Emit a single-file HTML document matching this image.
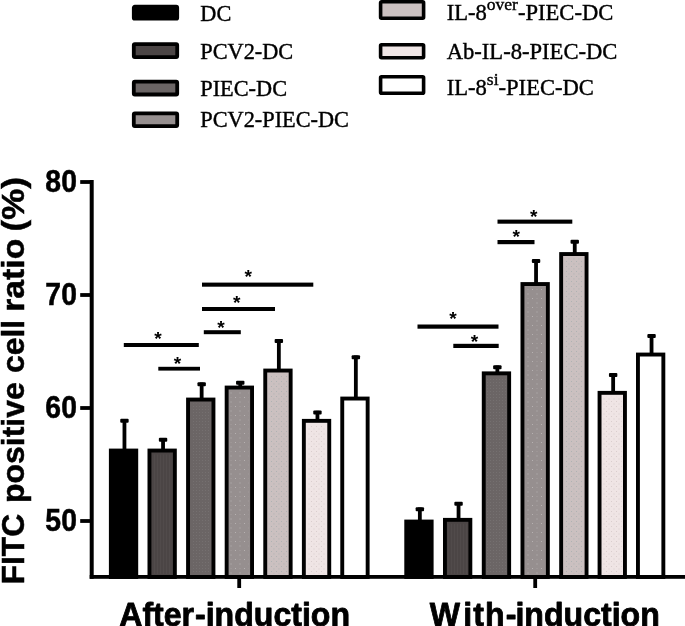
<!DOCTYPE html>
<html><head><meta charset="utf-8"><title>FITC positive cell ratio</title>
<style>
html,body{margin:0;padding:0;background:#fff;}
svg{display:block}
text{fill:#000}
.tick{stroke:#000;stroke-width:0.5px;font:bold 30px "Liberation Sans",Arial,sans-serif;text-anchor:end}
.xl{stroke:#000;stroke-width:0.8px;stroke-linejoin:round;font:bold 32.1px "Liberation Sans",Arial,sans-serif}
.yl{stroke:#000;stroke-width:0.5px;font:bold 31.5px "Liberation Sans",Arial,sans-serif}
.lg{stroke:#000;stroke-width:0.4px;font:22.6px "Liberation Serif","Times New Roman",serif}
.lgl{font-size:22.3px}
.sup{font-size:17.5px}
.star{font:bold 19.2px "Liberation Sans",Arial,sans-serif;text-anchor:middle}
</style></head><body>
<svg width="685" height="626" viewBox="0 0 685 626">
<defs>
<pattern id="p2" width="3" height="3" patternUnits="userSpaceOnUse"><rect x="1" y="0" width="1" height="3" fill="#fff" opacity="0.03"/></pattern>
<pattern id="p3" width="3" height="3" patternUnits="userSpaceOnUse"><rect x="1" y="1" width="1" height="1" fill="#fff" opacity="0.07"/></pattern>
<pattern id="p4" width="9" height="9" patternUnits="userSpaceOnUse"><rect x="1" y="1" width="1" height="1" fill="#fff" opacity="0.3"/><rect x="5.5" y="5.5" width="1" height="1" fill="#fff" opacity="0.3"/><rect x="5.5" y="1" width="1" height="1" fill="#fff" opacity="0.12"/></pattern>
<pattern id="p5" width="5" height="5" patternUnits="userSpaceOnUse"><rect x="1" y="1" width="0.9" height="0.9" fill="#6f9090" opacity="0.38"/><rect x="3.5" y="3.5" width="0.9" height="0.9" fill="#6f9090" opacity="0.38"/></pattern>
<pattern id="p6" width="5" height="5" patternUnits="userSpaceOnUse"><rect x="1" y="1" width="1" height="1" fill="#a99" opacity="0.3"/><rect x="3.5" y="3.5" width="1" height="1" fill="#a99" opacity="0.3"/></pattern>
</defs>
<rect width="685" height="626" fill="#fff"/>
<rect x="122.55" y="419.00" width="3.8" height="32.00" fill="#000"/><rect x="120.25" y="418.80" width="8.4" height="4" rx="1" fill="#000"/><rect x="110.85" y="450.55" width="25.40" height="126.45" fill="#000000" stroke="#000" stroke-width="3.9"/>
<rect x="161.15" y="438.00" width="3.8" height="13.00" fill="#000"/><rect x="158.85" y="437.80" width="8.4" height="4" rx="1" fill="#000"/><rect x="149.45" y="450.55" width="25.40" height="126.45" fill="#4b4545" stroke="#000" stroke-width="3.9"/><rect x="152.90" y="454.50" width="18.50" height="119.50" fill="url(#p2)"/>
<rect x="199.75" y="382.50" width="3.8" height="17.50" fill="#000"/><rect x="197.45" y="382.30" width="8.4" height="4" rx="1" fill="#000"/><rect x="188.05" y="399.55" width="25.40" height="177.45" fill="#6b6565" stroke="#000" stroke-width="3.9"/><rect x="191.50" y="403.50" width="18.50" height="170.50" fill="url(#p3)"/>
<rect x="238.35" y="381.00" width="3.8" height="7.00" fill="#000"/><rect x="236.05" y="380.80" width="8.4" height="4" rx="1" fill="#000"/><rect x="226.65" y="387.55" width="25.40" height="189.45" fill="#968f8f" stroke="#000" stroke-width="3.9"/><rect x="230.10" y="391.50" width="18.50" height="182.50" fill="url(#p4)"/>
<rect x="276.95" y="339.30" width="3.8" height="31.70" fill="#000"/><rect x="274.65" y="339.10" width="8.4" height="4" rx="1" fill="#000"/><rect x="265.25" y="370.55" width="25.40" height="206.45" fill="#cbc0c0" stroke="#000" stroke-width="3.9"/><rect x="268.70" y="374.50" width="18.50" height="199.50" fill="url(#p5)"/>
<rect x="315.55" y="410.80" width="3.8" height="10.50" fill="#000"/><rect x="313.25" y="410.60" width="8.4" height="4" rx="1" fill="#000"/><rect x="303.85" y="420.85" width="25.40" height="156.15" fill="#efe5e5" stroke="#000" stroke-width="3.9"/><rect x="307.30" y="424.80" width="18.50" height="149.20" fill="url(#p6)"/>
<rect x="353.95" y="355.50" width="3.8" height="43.50" fill="#000"/><rect x="351.65" y="355.30" width="8.4" height="4" rx="1" fill="#000"/><rect x="342.25" y="398.55" width="25.40" height="178.45" fill="#ffffff" stroke="#000" stroke-width="3.9"/>
<rect x="417.95" y="507.50" width="3.8" height="14.50" fill="#000"/><rect x="415.65" y="507.30" width="8.4" height="4" rx="1" fill="#000"/><rect x="406.25" y="521.55" width="25.40" height="55.45" fill="#000000" stroke="#000" stroke-width="3.9"/>
<rect x="456.65" y="502.00" width="3.8" height="18.30" fill="#000"/><rect x="454.35" y="501.80" width="8.4" height="4" rx="1" fill="#000"/><rect x="444.95" y="519.85" width="25.40" height="57.15" fill="#4b4545" stroke="#000" stroke-width="3.9"/><rect x="448.40" y="523.80" width="18.50" height="50.20" fill="url(#p2)"/>
<rect x="495.45" y="365.50" width="3.8" height="8.30" fill="#000"/><rect x="493.15" y="365.30" width="8.4" height="4" rx="1" fill="#000"/><rect x="483.75" y="373.35" width="25.40" height="203.65" fill="#6b6565" stroke="#000" stroke-width="3.9"/><rect x="487.20" y="377.30" width="18.50" height="196.70" fill="url(#p3)"/>
<rect x="534.15" y="259.30" width="3.8" height="25.20" fill="#000"/><rect x="531.85" y="259.10" width="8.4" height="4" rx="1" fill="#000"/><rect x="522.45" y="284.05" width="25.40" height="292.95" fill="#968f8f" stroke="#000" stroke-width="3.9"/><rect x="525.90" y="288.00" width="18.50" height="286.00" fill="url(#p4)"/>
<rect x="572.85" y="240.00" width="3.8" height="14.50" fill="#000"/><rect x="570.55" y="239.80" width="8.4" height="4" rx="1" fill="#000"/><rect x="561.15" y="254.05" width="25.40" height="322.95" fill="#cbc0c0" stroke="#000" stroke-width="3.9"/><rect x="564.60" y="258.00" width="18.50" height="316.00" fill="url(#p5)"/>
<rect x="611.25" y="373.30" width="3.8" height="20.00" fill="#000"/><rect x="608.95" y="373.10" width="8.4" height="4" rx="1" fill="#000"/><rect x="599.55" y="392.85" width="25.40" height="184.15" fill="#efe5e5" stroke="#000" stroke-width="3.9"/><rect x="603.00" y="396.80" width="18.50" height="177.20" fill="url(#p6)"/>
<rect x="649.65" y="334.30" width="3.8" height="20.70" fill="#000"/><rect x="647.35" y="334.10" width="8.4" height="4" rx="1" fill="#000"/><rect x="637.95" y="354.55" width="25.40" height="222.45" fill="#ffffff" stroke="#000" stroke-width="3.9"/>
<rect x="123.8" y="343" width="75.00" height="4.00" fill="#000"/>
<text x="158" y="344.7" class="star">*</text>
<rect x="158.3" y="366.8" width="41.70" height="3.80" fill="#000"/>
<text x="177.5" y="369.7" class="star">*</text>
<rect x="203.8" y="330.2" width="37.00" height="4.00" fill="#000"/>
<text x="221" y="333.7" class="star">*</text>
<rect x="202" y="307" width="73.00" height="4.00" fill="#000"/>
<text x="236.8" y="308.7" class="star">*</text>
<rect x="202" y="282.6" width="111.30" height="4.10" fill="#000"/>
<text x="248.3" y="282.7" class="star">*</text>
<rect x="417.5" y="324.5" width="81.00" height="4.20" fill="#000"/>
<text x="453" y="324.5" class="star">*</text>
<rect x="453.3" y="343.8" width="45.40" height="4.20" fill="#000"/>
<text x="474.6" y="348.2" class="star">*</text>
<rect x="497.5" y="240" width="37.00" height="4.20" fill="#000"/>
<text x="516.2" y="242.5" class="star">*</text>
<rect x="497.5" y="219.6" width="74.80" height="4.10" fill="#000"/>
<text x="533.8" y="222.7" class="star">*</text>
<rect x="89.7" y="180" width="4" height="398.8" fill="#000"/>
<rect x="89.7" y="575" width="596" height="3.8" fill="#000"/>
<rect x="80.2" y="180.1" width="10" height="3.8" fill="#000"/>
<text transform="translate(76.9,191.79999999999998) scale(0.945,1.073)" class="tick">80</text>
<rect x="80.2" y="293.1" width="10" height="3.8" fill="#000"/>
<text transform="translate(76.9,304.8) scale(0.945,1.073)" class="tick">70</text>
<rect x="80.2" y="406.1" width="10" height="3.8" fill="#000"/>
<text transform="translate(76.9,417.8) scale(0.945,1.073)" class="tick">60</text>
<rect x="80.2" y="519.1" width="10" height="3.8" fill="#000"/>
<text transform="translate(76.9,530.8000000000001) scale(0.945,1.073)" class="tick">50</text>
<rect x="237.3" y="578" width="3.8" height="10" fill="#000"/>
<rect x="533.3" y="578" width="3.8" height="10" fill="#000"/>
<text transform="translate(119.2,626.2) scale(1,1.03)" class="xl">After<tspan dx="0.9">-induction</tspan></text>
<text transform="translate(429.7,626.2) scale(1,1.03)" class="xl">W<tspan dx="3.3">i</tspan><tspan dx="1">t</tspan><tspan dx="1">h</tspan><tspan dx="1.2">-</tspan><tspan dx="-1">induction</tspan></text>
<text transform="translate(23.8,584.50) rotate(-90) scale(1.0120,1)" class="yl">FITC</text>
<text transform="translate(23.8,503.00) rotate(-90) scale(1.0140,1)" class="yl">positive</text>
<text transform="translate(23.8,373.00) rotate(-90) scale(1.0120,1)" class="yl">cell</text>
<text transform="translate(23.8,311.80) rotate(-90) scale(1.0700,1)" class="yl">ratio</text>
<text transform="translate(23.8,231.50) rotate(-90) scale(1.1100,1)" class="yl">(%)</text>
<rect x="133.8" y="6.70" width="43.4" height="12.00" rx="1" fill="#000000" stroke="#000" stroke-width="3.8"/>
<text x="200.3" y="20.5" class="lg lgl">DC</text>
<rect x="133.8" y="44.10" width="43.4" height="13.00" rx="1" fill="#4b4545" stroke="#000" stroke-width="3.8"/>
<text x="200.3" y="58.5" class="lg lgl">PCV2-DC</text>
<rect x="133.8" y="81.70" width="43.4" height="12.80" rx="1" fill="#6b6565" stroke="#000" stroke-width="3.8"/>
<text x="200.3" y="96" class="lg lgl">PIEC-DC</text>
<rect x="133.8" y="113.40" width="43.4" height="12.70" rx="1" fill="#968f8f" stroke="#000" stroke-width="3.8"/>
<text x="200.3" y="127.2" class="lg lgl">PCV2-PIEC-DC</text>
<rect x="380.6" y="1.8" width="43" height="16.4" rx="1" fill="#cbc0c0" stroke="#000" stroke-width="3.6"/>
<text x="446.7" y="20" class="lg">IL-8<tspan class="sup" dy="-9.8">over</tspan><tspan dy="9.8">-PIEC-DC</tspan></text>
<rect x="380.6" y="44.8" width="43" height="12.9" rx="1" fill="#efe5e5" stroke="#000" stroke-width="3.6"/>
<text x="446.7" y="59.3" class="lg">Ab-IL-8-PIEC-DC</text>
<rect x="380.6" y="76.8" width="43" height="16.4" rx="1" fill="#ffffff" stroke="#000" stroke-width="3.6"/>
<text x="446.7" y="95.1" class="lg">IL-8<tspan class="sup" dy="-9.8">si</tspan><tspan dy="9.8">-PIEC-DC</tspan></text>
</svg>
</body></html>
